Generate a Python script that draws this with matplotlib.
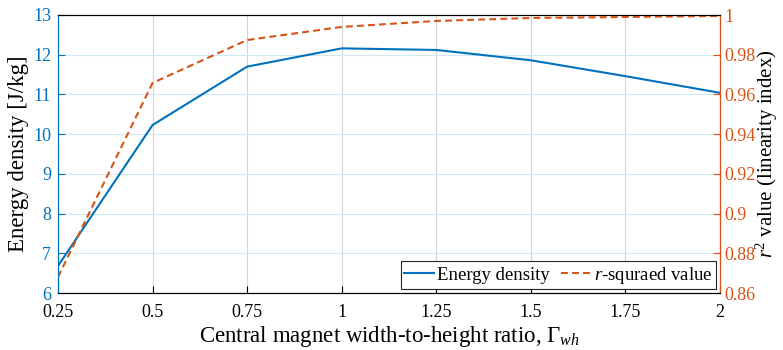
import matplotlib.pyplot as plt
from matplotlib.ticker import FixedLocator

plt.rcParams['font.family'] = ['Liberation Serif', 'DejaVu Serif']
plt.rcParams['mathtext.fontset'] = 'custom'
plt.rcParams['mathtext.rm'] = 'Liberation Serif'
plt.rcParams['mathtext.it'] = 'Liberation Serif:italic'

# data
ratio = [0.25, 0.5, 0.75, 1.0, 1.25, 1.5, 1.75, 2.0]
energy = [6.68, 10.23, 11.70, 12.16, 12.12, 11.86, 11.46, 11.04]
r2 = [0.868, 0.9658, 0.9874, 0.9940, 0.9970, 0.9985, 0.9990, 0.9995]

xticks = [0.25, 0.5, 0.75, 1, 1.25, 1.5, 1.75, 2]
xticklabels = ['0.25', '0.5', '0.75', '1', '1.25', '1.5', '1.75', '2']
yticks_left = [6, 7, 8, 9, 10, 11, 12, 13]
yticks_right = [0.86, 0.88, 0.9, 0.92, 0.94, 0.96, 0.98, 1.0]
yticklabels_right = ['0.86', '0.88', '0.9', '0.92', '0.94', '0.96', '0.98', '1']

blue = '#0072BD'
orange = '#D95319'

fig = plt.figure(figsize=(7.83, 3.5), dpi=100)
ax = fig.add_axes([58 / 783, 1 - 293 / 350, (720 - 58) / 783, (293 - 15) / 350])
ax2 = ax.twinx()

l1, = ax.plot(ratio, energy, color=blue, lw=1.5, label='Energy density')
l2, = ax2.plot(ratio, r2, color=orange, lw=1.5, ls=(0, (3.3, 2.0)),
               label=r'$r$-squraed value')

ax.set_xlim(0.25, 2)
ax.set_ylim(6, 13)
ax2.set_ylim(0.86, 1.0)
ax.set_xticks(xticks)
ax.set_xticklabels(xticklabels)
ax.set_yticks(yticks_left)
ax2.yaxis.set_major_locator(FixedLocator(yticks_right))
ax2.set_yticklabels(yticklabels_right)

# grids: vertical grey, horizontal light blue
ax.grid(axis='x', color='#d4d4d4', lw=0.8)
ax.grid(axis='y', color='#d3e6f4', lw=0.8)
ax.set_axisbelow(True)

ax.tick_params(axis='x', direction='in', labelsize=13, length=5, colors='black', pad=8)
ax.tick_params(axis='y', direction='in', labelsize=13, length=5, colors=blue, labelcolor=blue, pad=5)
ax2.tick_params(axis='y', direction='in', labelsize=13, length=5, colors=orange, labelcolor=orange, pad=3)

for s in ['top', 'bottom']:
    ax.spines[s].set_color('black')
ax.spines['left'].set_color(blue)
ax2.spines['left'].set_color(blue)
ax2.spines['right'].set_color(orange)
ax2.spines['top'].set_color('black')

ax.set_xlabel(r'Central magnet width-to-height ratio, $\Gamma_{wh}$', fontsize=16.5, labelpad=2)
ax.set_ylabel('Energy density [J/kg]', fontsize=16.5, labelpad=3)
ax2.set_ylabel(r'$r^2$ value (linearity index)', fontsize=15, labelpad=-1)

leg = ax2.legend(handles=[l1, l2], loc='lower right', ncol=2, fontsize=13.5,
                 frameon=True, fancybox=False, edgecolor='#262626', framealpha=1,
                 handlelength=1.6, handletextpad=0.15, columnspacing=0.6,
                 borderpad=0.2, borderaxespad=0.2)
leg.get_frame().set_linewidth(0.8)

plt.savefig('out.png', dpi=100)
